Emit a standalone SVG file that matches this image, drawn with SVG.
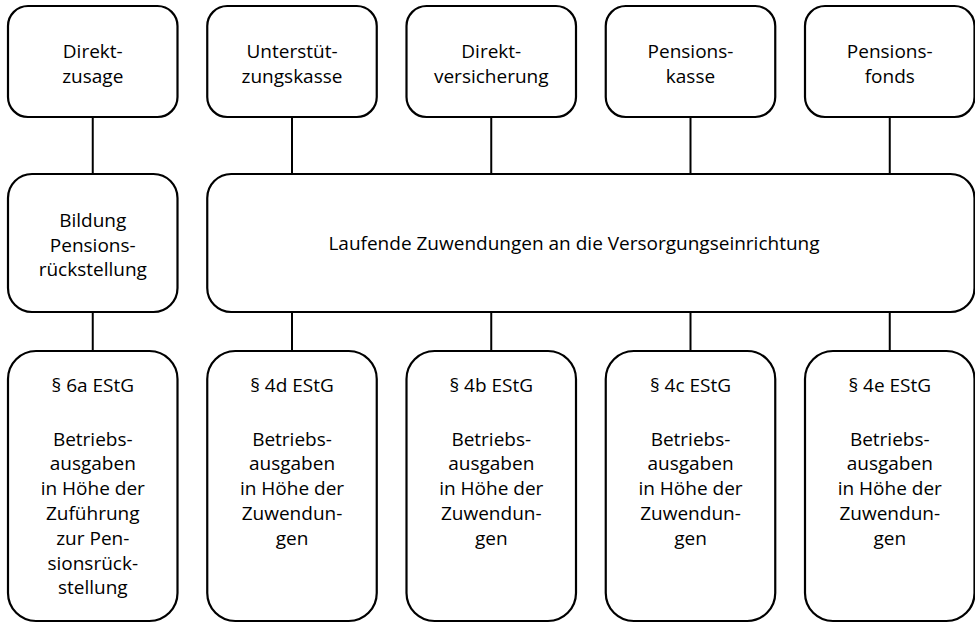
<svg xmlns="http://www.w3.org/2000/svg" width="975" height="624" viewBox="0 0 975 624">
<style>
.box{fill:#fff;stroke:#000;stroke-width:2.2}
.c{stroke:#000;stroke-width:2;fill:none}
text{font-family:"Open Sans","Noto Sans",sans-serif;font-size:19px;fill:#000;text-anchor:middle}
</style>
<rect width="975" height="624" fill="#fff"/>
<g id="connectors">
<line class="c" x1="92.75" y1="117" x2="92.75" y2="174"/>
<line class="c" x1="292" y1="117" x2="292" y2="174"/>
<line class="c" x1="491.25" y1="117" x2="491.25" y2="174"/>
<line class="c" x1="690.5" y1="117" x2="690.5" y2="174"/>
<line class="c" x1="889.75" y1="117" x2="889.75" y2="174"/>
<line class="c" x1="92.75" y1="312" x2="92.75" y2="351"/>
<line class="c" x1="292" y1="312" x2="292" y2="351"/>
<line class="c" x1="491.25" y1="312" x2="491.25" y2="351"/>
<line class="c" x1="690.5" y1="312" x2="690.5" y2="351"/>
<line class="c" x1="889.75" y1="312" x2="889.75" y2="351"/>
</g>
<g id="top1"><rect class="box" x="8" y="6" width="169.5" height="111" rx="20"/><text x="92.75" y="58">Direkt-</text><text x="92.75" y="82.5">zusage</text></g>
<g id="top2"><rect class="box" x="207.25" y="6" width="169.5" height="111" rx="20"/><text x="292" y="58">Unterstüt-</text><text x="292" y="82.5">zungskasse</text></g>
<g id="top3"><rect class="box" x="406.5" y="6" width="169.5" height="111" rx="20"/><text x="491.25" y="58">Direkt-</text><text x="491.25" y="82.5">versicherung</text></g>
<g id="top4"><rect class="box" x="605.75" y="6" width="169.5" height="111" rx="20"/><text x="690.5" y="58">Pensions-</text><text x="690.5" y="82.5">kasse</text></g>
<g id="top5"><rect class="box" x="805" y="6" width="169.5" height="111" rx="20"/><text x="889.75" y="58">Pensions-</text><text x="889.75" y="82.5">fonds</text></g>
<g id="mid1"><rect class="box" x="8" y="174" width="169.5" height="138" rx="24"/><text x="92.75" y="227">Bildung</text><text x="92.75" y="251.5">Pensions-</text><text x="92.75" y="276">rückstellung</text></g>
<g id="mid2"><rect class="box" x="207.25" y="174" width="767.25" height="138" rx="24"/><text x="574" y="249.5">Laufende Zuwendungen an die Versorgungseinrichtung</text></g>
<g id="bot1"><rect class="box" x="8" y="351" width="169.5" height="270" rx="28"/>
<text x="92.75" y="392">§ 6a EStG</text><text x="92.75" y="445.5">Betriebs-</text><text x="92.75" y="470.3">ausgaben</text><text x="92.75" y="495.1">in Höhe der</text><text x="92.75" y="519.9">Zuführung</text><text x="92.75" y="544.7">zur Pen-</text><text x="92.75" y="569.5">sionsrück-</text><text x="92.75" y="594.3">stellung</text></g>
<g id="bot2"><rect class="box" x="207.25" y="351" width="169.5" height="270" rx="28"/>
<text x="292" y="392">§ 4d EStG</text><text x="292" y="445.5">Betriebs-</text><text x="292" y="470.3">ausgaben</text><text x="292" y="495.1">in Höhe der</text><text x="292" y="519.9">Zuwendun-</text><text x="292" y="544.7">gen</text></g>
<g id="bot3"><rect class="box" x="406.5" y="351" width="169.5" height="270" rx="28"/>
<text x="491.25" y="392">§ 4b EStG</text><text x="491.25" y="445.5">Betriebs-</text><text x="491.25" y="470.3">ausgaben</text><text x="491.25" y="495.1">in Höhe der</text><text x="491.25" y="519.9">Zuwendun-</text><text x="491.25" y="544.7">gen</text></g>
<g id="bot4"><rect class="box" x="605.75" y="351" width="169.5" height="270" rx="28"/>
<text x="690.5" y="392">§ 4c EStG</text><text x="690.5" y="445.5">Betriebs-</text><text x="690.5" y="470.3">ausgaben</text><text x="690.5" y="495.1">in Höhe der</text><text x="690.5" y="519.9">Zuwendun-</text><text x="690.5" y="544.7">gen</text></g>
<g id="bot5"><rect class="box" x="805" y="351" width="169.5" height="270" rx="28"/>
<text x="889.75" y="392">§ 4e EStG</text><text x="889.75" y="445.5">Betriebs-</text><text x="889.75" y="470.3">ausgaben</text><text x="889.75" y="495.1">in Höhe der</text><text x="889.75" y="519.9">Zuwendun-</text><text x="889.75" y="544.7">gen</text></g>
</svg>
